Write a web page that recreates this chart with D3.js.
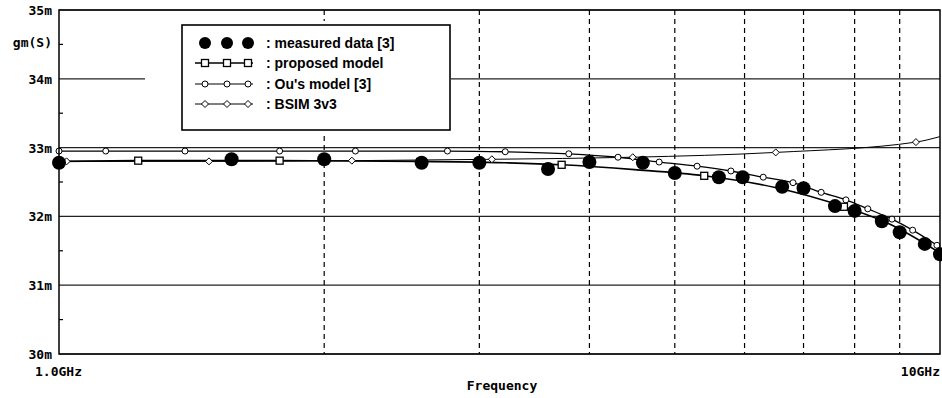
<!DOCTYPE html>
<html>
<head>
<meta charset="utf-8">
<script src="https://cdn.jsdelivr.net/npm/d3@7/dist/d3.min.js"></script>
<style>
  body { margin: 0; background: #fff; }
  svg { display: block; }
  .tick-text { font-family: "DejaVu Sans Mono", monospace; font-weight: bold; font-size: 13px; fill: #000; }
  .legend-text { font-family: "Liberation Sans", Arial, sans-serif; font-weight: bold; font-size: 14px; fill: #000; }
</style>
</head>
<body>
<div id="page"></div>
<script>
// gm in mS, frequency in GHz
var yTicks = [30, 31, 32, 33, 34, 35];
var yTickLabels = ["30m", "31m", "32m", "33m", "34m", "35m"];
var xGrid = [2, 3, 4, 5, 6, 7, 8, 9];

var measuredF  = [1.0, 1.57, 2.0, 2.58, 3.0, 3.59, 4.0, 4.6, 5.0, 5.61, 5.97, 6.62, 7.0, 7.6, 8.0, 8.59, 9.0, 9.61, 10.0];
var measuredGm = [32.78, 32.83, 32.83, 32.78, 32.78, 32.69, 32.79, 32.78, 32.63, 32.57, 32.57, 32.43, 32.41, 32.15, 32.08, 31.93, 31.77, 31.60, 31.45];

var proposedF  = [1.0, 1.23, 1.78, 2.57, 3.2, 3.72, 4.5, 5.4, 6.5, 7.78, 8.8, 10.0];
var proposedGm = [32.80, 32.81, 32.81, 32.80, 32.78, 32.75, 32.68, 32.59, 32.42, 32.14, 31.88, 31.47];
var proposedMarkF  = [1.23, 1.78, 2.57, 3.72, 5.40, 7.78];
var proposedMarkGm = [32.81, 32.81, 32.79, 32.75, 32.59, 32.14];

var ouF  = [1.0, 1.13, 1.39, 1.78, 2.17, 2.76, 3.21, 3.79, 4.31, 4.80, 5.30, 5.79, 6.30, 6.81, 7.33, 7.82, 8.28, 8.82, 9.31, 9.92];
var ouGm = [32.95, 32.95, 32.95, 32.95, 32.95, 32.95, 32.94, 32.91, 32.86, 32.79, 32.73, 32.66, 32.57, 32.49, 32.35, 32.24, 32.11, 31.96, 31.80, 31.58];

var bsimF  = [1.0, 1.02, 1.48, 2.15, 3.10, 4.48, 6.51, 9.39, 10.0];
var bsimGm = [32.80, 32.80, 32.80, 32.81, 32.83, 32.86, 32.93, 33.08, 33.16];
var bsimMarkF  = [1.02, 1.48, 2.15, 3.10, 4.48, 6.51, 9.39];
var bsimMarkGm = [32.80, 32.80, 32.81, 32.83, 32.86, 32.93, 33.08];

var legendLabels = [": measured data [3]", ": proposed model", ": Ou's model [3]", ": BSIM 3v3"];

var svg = d3.select("#page").append("svg")
    .attr("width", 942)
    .attr("height", 398);

var x = d3.scaleLog().domain([1, 10]).range([59, 940]),
    y = d3.scaleLinear().domain([30, 35]).range([354, 10]);

var zip = function(fs, vs) {
  return fs.map(function(f, i) { return [f, vs[i]]; });
};

var line = d3.line()
    .x(function(d) { return x(d[0]); })
    .y(function(d) { return y(d[1]); })
    .curve(d3.curveMonotoneX);

// grid
svg.append("g").selectAll("line")
    .data(yTicks)
  .enter().append("line")
    .attr("x1", x(1)).attr("x2", x(10))
    .attr("y1", function(d) { return y(d); })
    .attr("y2", function(d) { return y(d); })
    .attr("stroke", "#222").attr("stroke-width", 1.2);

svg.append("g").selectAll("line")
    .data(xGrid)
  .enter().append("line")
    .attr("x1", function(d) { return x(d); })
    .attr("x2", function(d) { return x(d); })
    .attr("y1", y(35)).attr("y2", y(30))
    .attr("stroke", "#000").attr("stroke-width", 1.2)
    .attr("stroke-dasharray", "5,4");

// minor ticks on the left axis
svg.append("g").selectAll("line")
    .data([30.5, 31.5, 32.5, 33.5, 34.5])
  .enter().append("line")
    .attr("x1", x(1)).attr("x2", x(1) + 4)
    .attr("y1", function(d) { return y(d); })
    .attr("y2", function(d) { return y(d); })
    .attr("stroke", "#000").attr("stroke-width", 1.2);

// legend background hides the grid
svg.append("rect")
    .attr("x", 145).attr("y", 21).attr("width", 306).attr("height", 112)
    .attr("fill", "#fff");
svg.append("rect")
    .attr("x", 182).attr("y", 25).attr("width", 268).attr("height", 105)
    .attr("fill", "#fff").attr("stroke", "#000").attr("stroke-width", 1.6);

// series lines
svg.append("path").datum(zip(bsimF, bsimGm))
    .attr("d", line).attr("fill", "none").attr("stroke", "#000").attr("stroke-width", 1);
svg.append("path").datum(zip(ouF, ouGm))
    .attr("d", line).attr("fill", "none").attr("stroke", "#000").attr("stroke-width", 1.3);
svg.append("path").datum(zip(proposedF, proposedGm))
    .attr("d", line).attr("fill", "none").attr("stroke", "#000").attr("stroke-width", 1.6);

var diamond = function(sel, cx, cy, r) {
  sel.append("path")
    .attr("d", "M" + cx + "," + (cy - r) + "L" + (cx + r) + "," + cy + "L" + cx + "," + (cy + r) + "L" + (cx - r) + "," + cy + "Z")
    .attr("fill", "#fff").attr("stroke", "#000").attr("stroke-width", 1);
};
var square = function(sel, cx, cy, r) {
  sel.append("rect")
    .attr("x", cx - r).attr("y", cy - r).attr("width", 2 * r).attr("height", 2 * r)
    .attr("fill", "#fff").attr("stroke", "#000").attr("stroke-width", 1.3);
};
var ring = function(sel, cx, cy, r) {
  sel.append("circle")
    .attr("cx", cx).attr("cy", cy).attr("r", r)
    .attr("fill", "#fff").attr("stroke", "#000").attr("stroke-width", 1);
};

var marks = svg.append("g");
zip(bsimMarkF, bsimMarkGm).forEach(function(d) { diamond(marks, x(d[0]), y(d[1]), 3.5); });
zip(ouF, ouGm).forEach(function(d) { ring(marks, x(d[0]), y(d[1]), 3); });
zip(proposedMarkF, proposedMarkGm).forEach(function(d) { square(marks, x(d[0]), y(d[1]), 3.5); });

svg.append("g").selectAll("circle")
    .data(zip(measuredF, measuredGm))
  .enter().append("circle")
    .attr("cx", function(d) { return x(d[0]); })
    .attr("cy", function(d) { return y(d[1]); })
    .attr("r", 7)
    .attr("fill", "#000");

// frame
svg.append("rect")
    .attr("x", x(1)).attr("y", y(35))
    .attr("width", x(10) - x(1)).attr("height", y(30) - y(35))
    .attr("fill", "none").attr("stroke", "#000").attr("stroke-width", 1.5);

// axis labels
svg.append("g").selectAll("text")
    .data(yTicks)
  .enter().append("text")
    .attr("class", "tick-text")
    .attr("x", 52)
    .attr("y", function(d) { return y(d) + 5; })
    .attr("text-anchor", "end")
    .text(function(d, i) { return yTickLabels[i]; });

svg.append("text").attr("class", "tick-text")
    .attr("x", 52).attr("y", 47).attr("text-anchor", "end").text("gm(S)");
svg.append("text").attr("class", "tick-text")
    .attr("x", 35).attr("y", 376).text("1.0GHz");
svg.append("text").attr("class", "tick-text")
    .attr("x", 940).attr("y", 376).attr("text-anchor", "end").text("10GHz");
svg.append("text").attr("class", "tick-text")
    .attr("x", 502).attr("y", 390).attr("text-anchor", "middle").text("Frequency");

// legend entries
var rows = [43, 63, 84, 104],
    sx = [205, 227, 248];
var lg = svg.append("g");
sx.forEach(function(cx) {
  lg.append("circle").attr("cx", cx).attr("cy", rows[0]).attr("r", 6).attr("fill", "#000");
});
[1, 2, 3].forEach(function(k) {
  lg.append("line")
    .attr("x1", 195).attr("x2", 253)
    .attr("y1", rows[k]).attr("y2", rows[k])
    .attr("stroke", "#000").attr("stroke-width", k === 1 ? 1.6 : 1);
  sx.forEach(function(cx) {
    if (k === 1) square(lg, cx, rows[k], 3.5);
    if (k === 2) ring(lg, cx, rows[k], 3);
    if (k === 3) diamond(lg, cx, rows[k], 3.5);
  });
});
lg.selectAll("text")
    .data(legendLabels)
  .enter().append("text")
    .attr("class", "legend-text")
    .attr("x", 266)
    .attr("y", function(d, i) { return rows[i] + 5; })
    .text(function(d) { return d; });
</script>
</body>
</html>
